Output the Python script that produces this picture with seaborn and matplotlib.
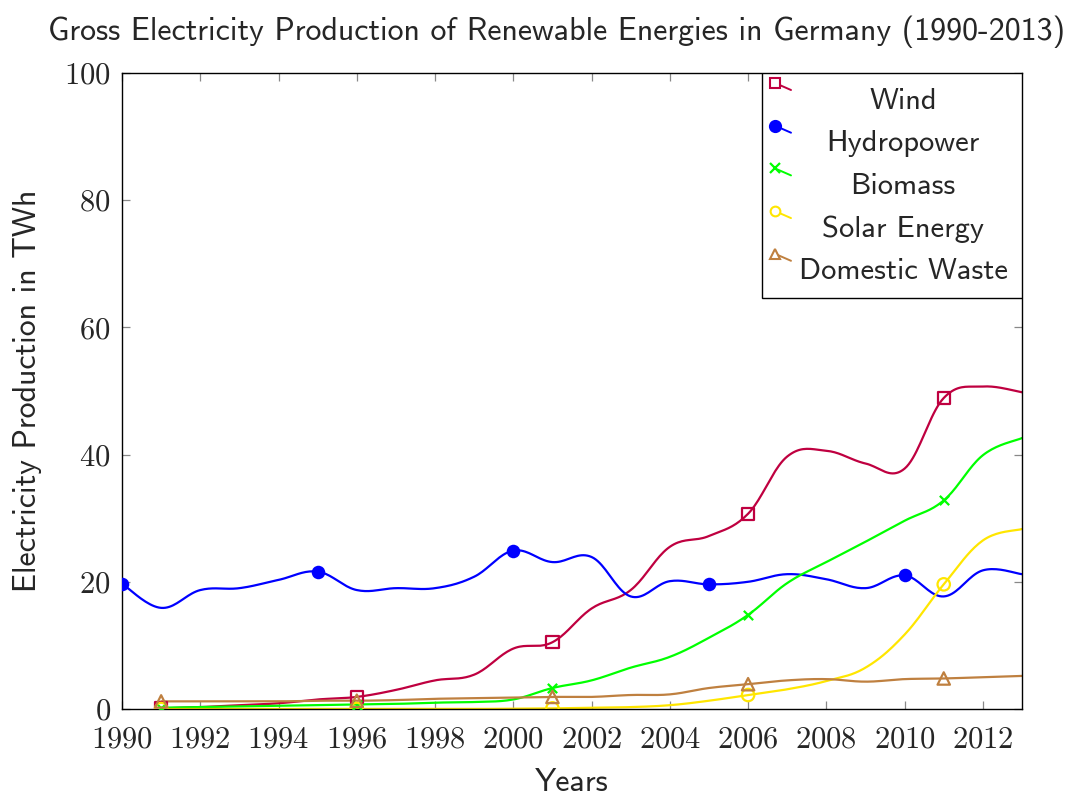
import numpy as np
import pandas as pd
import matplotlib
matplotlib.use("Agg")
import matplotlib.pyplot as plt
import seaborn as sns

# data (TWh)
years_hydro = list(range(1990, 2014))
years = list(range(1991, 2014))

wind = [0.1, 0.3, 0.6, 0.9, 1.5, 1.9, 3.0, 4.5, 5.4, 9.5, 10.5, 15.8, 18.7, 25.5,
        27.2, 30.7, 39.7, 40.6, 38.6, 37.8, 48.9, 50.7, 49.8]
hydro = [19.7, 15.9, 18.7, 19.0, 20.3, 21.6, 18.7, 19.0, 19.0, 20.8, 24.9, 23.1,
         23.9, 17.7, 20.1, 19.6, 20.0, 21.2, 20.4, 19.0, 21.0, 17.7, 21.8, 21.2]
biomass = [0.2, 0.3, 0.4, 0.5, 0.6, 0.7, 0.8, 1.0, 1.1, 1.5, 3.3, 4.5, 6.5, 8.2,
           11.2, 14.8, 19.8, 23.1, 26.3, 29.6, 32.8, 39.9, 42.6]
solar = [0.0, 0.0, 0.0, 0.0, 0.0, 0.0, 0.0, 0.0, 0.0, 0.06, 0.1, 0.2, 0.3, 0.6,
         1.3, 2.2, 3.1, 4.4, 6.5, 11.7, 19.6, 26.5, 28.3]
waste = [1.2, 1.2, 1.2, 1.2, 1.3, 1.3, 1.4, 1.6, 1.7, 1.8, 1.9, 1.9, 2.2, 2.3,
         3.3, 3.9, 4.5, 4.7, 4.3, 4.7, 4.8, 5.0, 5.2]

names = ["Wind", "Hydropower", "Biomass", "Solar Energy", "Domestic Waste"]
series_x = [years, years_hydro, years, years, years]
series_y = [wind, hydro, biomass, solar, waste]
colors = ["#BF0040", "#0000FF", "#00FF00", "#FFE600", "#BF8040"]
markers = ["s", "o", "x", "o", "^"]
filled = [False, True, True, False, False]


def smooth(x, y, tension=0.55, n=20):
    # pgfplots-like "smooth" cardinal spline through the data points
    x = np.asarray(x, float)
    y = np.asarray(y, float)
    p = np.column_stack([x, y])
    out = [p[0]]
    k = tension / 3.0
    for i in range(len(p) - 1):
        prev = p[i - 1] if i > 0 else p[i]
        nxt = p[i + 2] if i + 2 < len(p) else p[i + 1]
        c1 = p[i] + k * (p[i + 1] - prev)
        c2 = p[i + 1] - k * (nxt - p[i])
        t = np.linspace(0, 1, n + 1)[1:, None]
        seg = ((1 - t) ** 3) * p[i] + 3 * ((1 - t) ** 2) * t * c1 + 3 * (1 - t) * t ** 2 * c2 + t ** 3 * p[i + 1]
        out.extend(seg)
    out = np.array(out)
    return out[:, 0], out[:, 1]


sns.set_theme(style="white")
plt.rcParams["font.family"] = ["cmss10", "DejaVu Sans"]
plt.rcParams["axes.formatter.use_mathtext"] = True

fig = plt.figure(figsize=(10.72, 7.98), dpi=100, facecolor="white")
ax = fig.add_axes([122 / 1072, 1 - 709 / 798, 900 / 1072, 636 / 798])
ax.set_facecolor("white")

for name, xs, ys, c in zip(names, series_x, series_y, colors):
    sx, sy = smooth(xs, ys)
    curve = pd.DataFrame({"x": sx, "y": sy})
    sns.lineplot(data=curve, x="x", y="y", sort=False, color=c, lw=1.6, ax=ax)

for name, xs, ys, c, m, f in zip(names, series_x, series_y, colors, markers, filled):
    pts = pd.DataFrame({"x": xs[::5], "y": ys[::5]})
    if m == "x":
        sns.scatterplot(data=pts, x="x", y="y", marker="x", color=c, s=45,
                        linewidth=1.6, ax=ax, zorder=5)
    elif f:
        sns.scatterplot(data=pts, x="x", y="y", marker=m, color=c, s=95,
                        edgecolor=c, linewidth=0, ax=ax, zorder=5)
    else:
        sns.scatterplot(data=pts, x="x", y="y", marker=m, facecolor="none",
                        edgecolor=c, s=80, linewidth=1.6, ax=ax, zorder=5)

ax.set_xlim(1990, 2013)
ax.set_ylim(0, 100)
ax.set_xticks(range(1990, 2013, 2))
ax.set_yticks(range(0, 101, 20))
for lab in ax.get_xticklabels() + ax.get_yticklabels():
    lab.set_family("cmr10")
    lab.set_fontsize(22)
ax.tick_params(direction="in", length=6, width=0.9, color="#888888",
               top=True, right=True, bottom=True, left=True)
ax.tick_params(axis="x", pad=12)
ax.tick_params(axis="y", pad=8)
for sp in ax.spines.values():
    sp.set_color("black")
    sp.set_linewidth(1.0)

ax.set_title("Gross Electricity Production of Renewable Energies in Germany (1990-2013)",
             fontsize=23, pad=24, x=(557 - 122) / 900)
ax.set_xlabel("Years", fontsize=23, labelpad=11)
ax.set_ylabel("Electricity Production in TWh", fontsize=23, labelpad=16)

# legend box drawn the way pgfplots renders it (marker at top left, label centred)
def fx(px):
    return (px - 122) / 900


def fy(py):
    return (709 - py) / 636


ax.add_patch(plt.Rectangle((fx(762), fy(298)), fx(1022) - fx(762), fy(73) - fy(298),
                           transform=ax.transAxes, facecolor="white",
                           edgecolor="black", lw=1.0, zorder=10))
for i, (name, c, m, f) in enumerate(zip(names, colors, markers, filled)):
    yc = 101 + i * 42.7
    ax.plot([fx(775), fx(791)], [fy(yc - 18), fy(yc - 11)], color=c, lw=1.4,
            transform=ax.transAxes, zorder=11, clip_on=False)
    if m == "x":
        ax.plot([fx(775)], [fy(yc - 18)], marker="x", color=c, ms=7, mew=1.6,
                transform=ax.transAxes, zorder=12, clip_on=False)
    else:
        ax.plot([fx(775)], [fy(yc - 18)], marker=m, ms=8 if f else 7,
                mfc=c if f else "white", mec=c, mew=1.5,
                transform=ax.transAxes, zorder=12, clip_on=False)
    ax.text(fx(903), fy(yc), name, transform=ax.transAxes, ha="center",
            va="center", fontsize=22, zorder=12)

fig.savefig("out.png", dpi=100, facecolor="white")
